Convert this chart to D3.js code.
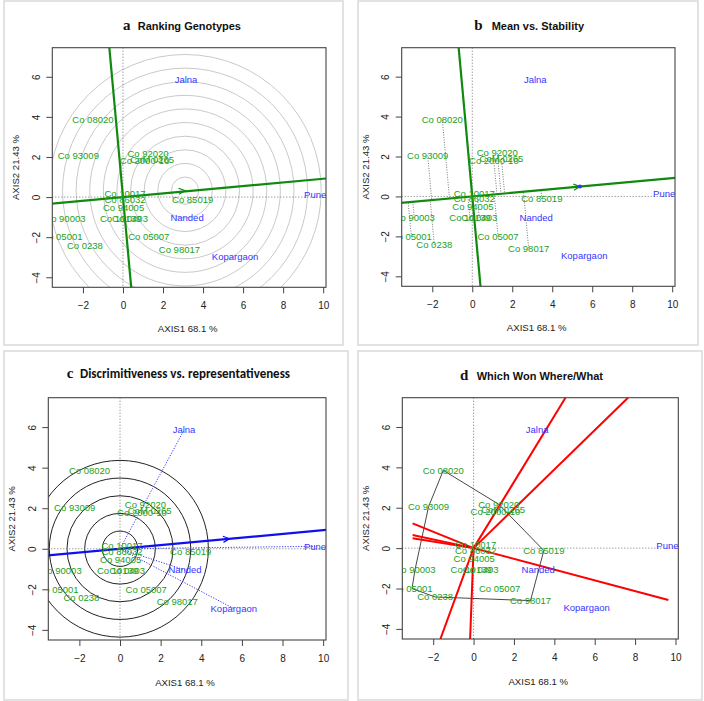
<!DOCTYPE html>
<html><head><meta charset="utf-8">
<script src="https://cdn.jsdelivr.net/npm/d3@7"></script>
<style>body{margin:0;background:#fff} svg{display:block}</style>
</head><body>
<svg id="chart" width="704" height="701"></svg>
<script>
// ---------------- data ----------------
const genotypes = ["Co 08020","Co 93009","Co 92020","Co 2000-10","CoM 0265","Co 10017","Co 86032","Co 94005","Co 85019","Co 90003","Co 10139","Co 0403","Co 05001","Co 0238","Co 05007","Co 98017"];
const genoX = [-1.5,-2.23,1.25,1.08,1.46,0.1,0.1,0.03,3.48,-2.9,-0.12,0.35,-3.05,-1.9,1.29,2.82];
const genoY = [3.85,2.05,2.17,1.8,1.88,0.15,-0.12,-0.53,-0.12,-1.07,-1.07,-1.07,-2.0,-2.42,-2.0,-2.6];
const environments = ["Jalna","Pune","Nanded","Kopargaon"];
const envX = [3.15,9.6,3.2,5.6];
const envY = [5.85,0.12,-1.05,-2.95];
const xTicks = [-2,0,2,4,6,8,10];
const yTicks = [-4,-2,0,2,4,6];
const xAxisTitle = "AXIS1 68.1 %";
const yAxisTitle = "AXIS2 21.43 %";
const idealPoint = [3.1, 0.32];
const rankRings = [0.68,1.36,2.04,2.72,3.4,4.08,4.76,5.44,6.12,6.8];
const discRings = [0.87,1.74,2.61,3.48,4.35];
const panelLetters = ["a","b","c","d"];
const panelTitles = ["Ranking Genotypes","Mean vs. Stability","Discrimitiveness vs. representativeness","Which Won Where/What"];
const xDomain = [-3.53, 10.14];
const yDomain = [-4.5, 7.45];
const rayXLimits = [-3.02, 9.65];

// ---------------- layout ----------------
const layout = [
  {frame:[4,1,343,345], box:[52.3,47.7,326,287.3], letterX:123, titleX:137.7, titleY:30, xlab:[187.7,331.5], ylabX:15.5, ytickX:36.7, xtickY:305.7},
  {frame:[358,1,698,345], box:[401.7,47.7,675,286.3], letterX:474.3, titleX:491.7, titleY:30, xlab:[536.7,331], ylabX:365.5, ytickX:385.7, xtickY:304.3},
  {frame:[4,351,348,700], box:[48.3,397.7,326,640], letterX:66.7, titleX:80, titleY:378, titleLen:210, xlab:[185,686], ylabX:11.5, ytickX:32.3, xtickY:658.3},
  {frame:[358,351,702,700], box:[402.3,397.7,678.3,639], letterX:460, titleX:476.7, titleY:379.5, xlab:[538.3,684.5], ylabX:365.5, ytickX:386.7, xtickY:657.3}
];

const svg = d3.select("#chart");
const FONT = "'Liberation Sans', Arial, sans-serif";
const gCol = "#22a022", lineGreen = "#0f8a0f", envCol = "#3535ff";

const genos = genotypes.map((n,i)=>({name:n,x:genoX[i],y:genoY[i]}));
const envs = environments.map((n,i)=>({name:n,x:envX[i],y:envY[i]}));
const meanEnv = [d3.mean(envX), d3.mean(envY)];
const aeaLen = Math.hypot(meanEnv[0], meanEnv[1]);
const u = [meanEnv[0]/aeaLen, meanEnv[1]/aeaLen];

function arrowHead(g, px, py, ang, color, len) {
  const a1 = ang + Math.PI - 0.45, a2 = ang + Math.PI + 0.45;
  g.append("path")
    .attr("d", `M${px+len*Math.cos(a1)},${py+len*Math.sin(a1)}L${px},${py}L${px+len*Math.cos(a2)},${py+len*Math.sin(a2)}`)
    .attr("fill","none").attr("stroke",color).attr("stroke-width",1.2);
}

layout.forEach((L, pi) => {
  const [bx0,by0,bx1,by1] = L.box;
  const x = d3.scaleLinear().domain(xDomain).range([bx0,bx1]);
  const y = d3.scaleLinear().domain(yDomain).range([by1,by0]);
  const root = svg.append("g");

  // outer frame
  root.append("rect").attr("x",L.frame[0]).attr("y",L.frame[1])
    .attr("width",L.frame[2]-L.frame[0]).attr("height",L.frame[3]-L.frame[1])
    .attr("fill","none").attr("stroke","#d9d9d9").attr("stroke-width",1.5);

  // titles
  root.append("text").attr("x",L.letterX).attr("y",L.titleY).text(panelLetters[pi])
    .attr("font-family","'Liberation Serif', 'Times New Roman', serif").attr("font-weight","bold")
    .attr("font-size",15).attr("fill","#111");
  const t = root.append("text").attr("x",L.titleX).attr("y",L.titleY).text(panelTitles[pi])
    .attr("font-weight","bold").attr("fill","#111");
  if (pi === 2) {
    t.attr("font-family","Carlito, Lato, 'Open Sans', sans-serif").attr("font-size",13.5)
     .attr("textLength",L.titleLen).attr("lengthAdjust","spacingAndGlyphs");
  } else {
    t.attr("font-family",FONT).attr("font-size",11);
  }

  // clip
  const cid = "clip"+pi;
  root.append("clipPath").attr("id",cid).append("rect")
    .attr("x",bx0).attr("y",by0).attr("width",bx1-bx0).attr("height",by1-by0);
  const g = root.append("g").attr("clip-path",`url(#${cid})`);

  // rings
  if (pi === 0) {
    g.selectAll("circle.ring").data(rankRings).enter().append("circle")
      .attr("cx",x(idealPoint[0])).attr("cy",y(idealPoint[1]))
      .attr("r",r=>x(r)-x(0)).attr("fill","none").attr("stroke","#c9c9c9").attr("stroke-width",1);
  }
  if (pi === 2) {
    g.selectAll("circle.ring").data(discRings).enter().append("circle")
      .attr("cx",x(0)).attr("cy",y(0))
      .attr("r",r=>x(r)-x(0)).attr("fill","none").attr("stroke","#222").attr("stroke-width",1);
  }

  // dotted axes at 0
  g.append("line").attr("x1",x(0)).attr("x2",x(0)).attr("y1",by0).attr("y2",by1)
    .attr("stroke","#666").attr("stroke-width",0.9).attr("stroke-dasharray","1,2");
  g.append("line").attr("x1",bx0).attr("x2",bx1).attr("y1",y(0)).attr("y2",y(0))
    .attr("stroke","#666").attr("stroke-width",0.9).attr("stroke-dasharray","1,2");

  const far = 30;
  if (pi === 1) {
    // projections onto AEA
    genos.forEach(p => {
      const s = p.x*u[0] + p.y*u[1];
      g.append("line").attr("x1",x(p.x)).attr("y1",y(p.y)).attr("x2",x(s*u[0])).attr("y2",y(s*u[1]))
        .attr("stroke","#555").attr("stroke-width",0.8).attr("stroke-dasharray","1,1.5");
    });
  }
  if (pi === 2) {
    envs.forEach(e => {
      g.append("line").attr("x1",x(0)).attr("y1",y(0)).attr("x2",x(e.x)).attr("y2",y(e.y))
        .attr("stroke",envCol).attr("stroke-width",1).attr("stroke-dasharray","1.2,1.5");
    });
  }
  if (pi <= 2) {
    const col = pi === 2 ? "#1010ee" : lineGreen;
    g.append("line").attr("x1",x(-far*u[0])).attr("y1",y(-far*u[1])).attr("x2",x(far*u[0])).attr("y2",y(far*u[1]))
      .attr("stroke",col).attr("stroke-width",2.2);
    if (pi < 2) {
      g.append("line").attr("x1",x(far*u[1])).attr("y1",y(-far*u[0])).attr("x2",x(-far*u[1])).attr("y2",y(far*u[0]))
        .attr("stroke",col).attr("stroke-width",2.2);
    }
    const ang = Math.atan2(y(u[1])-y(0), x(u[0])-x(0));
    if (pi === 0) {
      arrowHead(g, x(idealPoint[0]), y(idealPoint[1]), ang, col, 7);
    } else {
      arrowHead(g, x(meanEnv[0]), y(meanEnv[1]), ang, col, 7);
      if (pi === 1) g.append("circle").attr("cx",x(meanEnv[0])).attr("cy",y(meanEnv[1])).attr("r",2).attr("fill",envCol);
    }
  }
  if (pi === 3) {
    const hull = d3.polygonHull(genos.map(p=>[p.x,p.y]));
    g.append("path").attr("d", "M"+hull.map(p=>[x(p[0]),y(p[1])].join(",")).join("L")+"Z")
      .attr("fill","none").attr("stroke","#333").attr("stroke-width",0.9);
    for (let i=0;i<hull.length;i++) {
      const p1 = hull[i], p2 = hull[(i+1)%hull.length];
      const d = [p2[0]-p1[0], p2[1]-p1[1]];
      const tt = -(p1[0]*d[0]+p1[1]*d[1])/(d[0]*d[0]+d[1]*d[1]);
      const f = [p1[0]+tt*d[0], p1[1]+tt*d[1]];
      // extend ray to limits
      let s = Infinity;
      if (f[0] > 0) s = Math.min(s, rayXLimits[1]/f[0]);
      if (f[0] < 0) s = Math.min(s, rayXLimits[0]/f[0]);
      if (f[1] > 0) s = Math.min(s, yDomain[1]/f[1]);
      if (f[1] < 0) s = Math.min(s, yDomain[0]/f[1]);
      g.append("line").attr("x1",x(0)).attr("y1",y(0)).attr("x2",x(f[0]*s)).attr("y2",y(f[1]*s))
        .attr("stroke","#ff0000").attr("stroke-width",2);
    }
  }

  // labels
  g.selectAll("text.geno").data(genos).enter().append("text")
    .attr("x",d=>x(d.x)).attr("y",d=>y(d.y)).attr("dy","0.35em").attr("text-anchor","middle")
    .attr("font-family",FONT).attr("font-size",9.5).attr("fill",gCol).text(d=>d.name);
  g.selectAll("text.env").data(envs).enter().append("text")
    .attr("x",d=>x(d.x)).attr("y",d=>y(d.y)).attr("dy","0.35em").attr("text-anchor","middle")
    .attr("font-family",FONT).attr("font-size",9.5).attr("fill",envCol).text(d=>d.name);

  // box
  root.append("rect").attr("x",bx0).attr("y",by0).attr("width",bx1-bx0).attr("height",by1-by0)
    .attr("fill","none").attr("stroke","#444").attr("stroke-width",1.1);

  // axes
  const xa = root.append("g").attr("transform",`translate(0,${by1})`)
    .call(d3.axisBottom(x).tickValues(xTicks).tickSize(6).tickSizeOuter(0).tickPadding(0).tickFormat(d3.format("d")));
  xa.select(".domain").remove();
  xa.selectAll("line").attr("stroke","#444");
  xa.selectAll("text").attr("y", L.xtickY - by1).attr("dy","0.35em")
    .attr("font-family",FONT).attr("font-size",10).attr("fill","#222");
  const ya = root.append("g").attr("transform",`translate(${bx0},0)`)
    .call(d3.axisLeft(y).tickValues(yTicks).tickSize(6).tickSizeOuter(0).tickFormat(d3.format("d")));
  ya.select(".domain").remove();
  ya.selectAll("line").attr("stroke","#444");
  ya.selectAll("text").attr("x",null).attr("dy",null).attr("text-anchor","middle")
    .attr("transform", function(){ return `translate(${L.ytickX-bx0},0) rotate(-90)`; })
    .attr("y", 0).attr("dy","0.35em")
    .attr("font-family",FONT).attr("font-size",10).attr("fill","#222");

  root.append("text").attr("x",L.xlab[0]).attr("y",L.xlab[1]).attr("text-anchor","middle")
    .attr("font-family",FONT).attr("font-size",9.6).attr("fill","#222").text(xAxisTitle);
  root.append("text").attr("transform",`translate(${L.ylabX},${(by0+by1)/2}) rotate(-90)`)
    .attr("text-anchor","middle").attr("dy","0.35em")
    .attr("font-family",FONT).attr("font-size",9.6).attr("fill","#222").text(yAxisTitle);
});
</script>
</body></html>
